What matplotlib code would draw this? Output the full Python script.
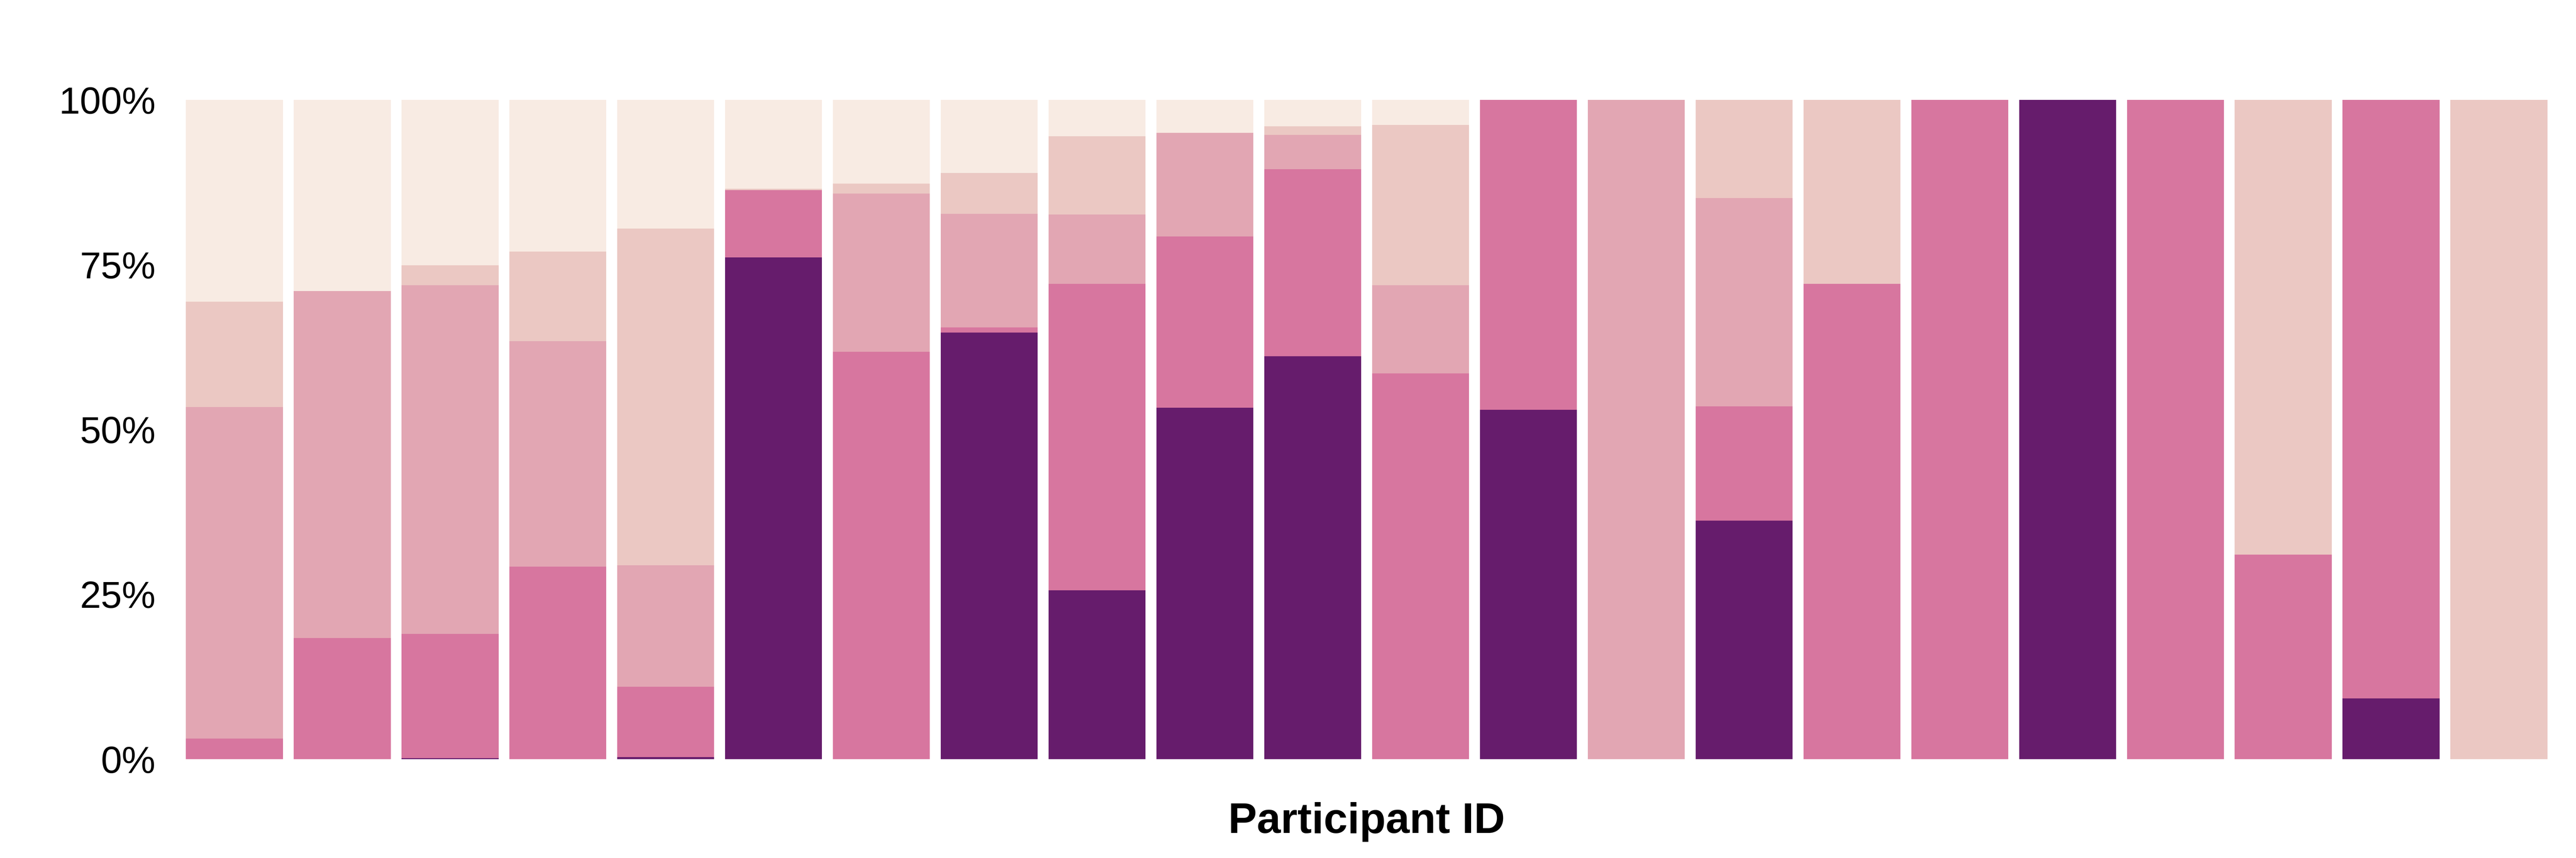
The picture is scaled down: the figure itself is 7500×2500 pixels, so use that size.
import matplotlib
matplotlib.use("Agg")
import matplotlib.pyplot as plt
import numpy as np

participants = [f"P{i:02d}" for i in range(1, 23)]
categories = ["Level 1", "Level 2", "Level 3", "Level 4", "Level 5"]
colors = ["#661C6C", "#D7769F", "#E2A6B3", "#EBC8C3", "#F8EBE3"]

level1 = [0, 0, 0.15, 0, 0.3, 76.1, 0, 64.7, 25.6, 53.3, 61.1, 0, 53.0, 0, 36.2, 0, 0, 100, 0, 0, 9.2, 0]
level2 = [3.1, 18.4, 18.85, 29.2, 10.7, 10.2, 61.8, 0.8, 46.5, 26.0, 28.4, 58.5, 47.0, 0, 17.3, 72.1, 100, 0, 100, 31.0, 90.8, 0]
level3 = [50.3, 52.6, 52.9, 34.2, 18.4, 0, 24.0, 17.2, 10.5, 15.7, 5.2, 13.4, 0, 100, 31.6, 0, 0, 0, 0, 0, 0, 0]
level4 = [16.0, 0, 3.0, 13.6, 51.1, 0.2, 1.5, 6.2, 11.9, 0, 1.3, 24.3, 0, 0, 14.9, 27.9, 0, 0, 0, 69.0, 0, 100]
level5 = [30.6, 29.0, 25.1, 23.0, 19.5, 13.5, 12.7, 11.1, 5.5, 5.0, 4.0, 3.8, 0, 0, 0, 0, 0, 0, 0, 0, 0, 0]

series = [level1, level2, level3, level4, level5]
yticks = [0, 25, 50, 75, 100]
ytick_labels = ["0%", "25%", "50%", "75%", "100%"]

plt.rcParams['font.family'] = ['Liberation Sans', 'DejaVu Sans']

fig = plt.figure(figsize=(25, 8.3335), dpi=300)
ax = fig.add_axes([541 / 7500, (2500 - 2212) / 2500, 6876 / 7500, 1921 / 2500])

x = np.arange(len(participants))
bottom = np.zeros(len(participants))
for vals, col, name in zip(series, colors, categories):
    v = np.array(vals, dtype=float)
    ax.bar(x, v, width=0.9, bottom=bottom, color=col, linewidth=0, label=name)
    bottom += v

ax.set_xlim(-0.45, len(participants) - 1 + 0.45)
ax.set_ylim(0, 100)
ax.set_yticks(yticks)
ax.set_yticklabels(ytick_labels, fontsize=26.5)
ax.set_xticks([])
ax.tick_params(axis='y', length=0, pad=21)
for s in ax.spines.values():
    s.set_visible(False)
ax.set_xlabel("Participant ID", fontsize=30, fontweight='bold', labelpad=30)

fig.savefig("out.png", dpi=300, facecolor="white")
